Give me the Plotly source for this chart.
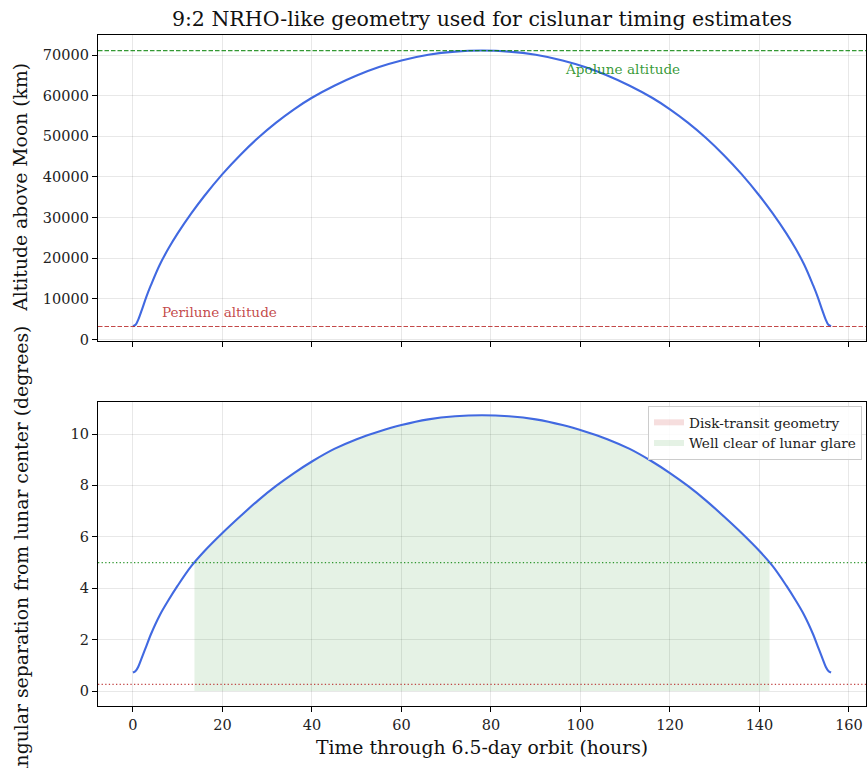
import numpy as np
import plotly.graph_objects as go
from plotly.subplots import make_subplots

# ---- data ----
time_h = [0, 0.6, 1.2, 2, 3, 4, 6, 8, 10, 13, 16, 20, 24, 28, 32, 36, 40, 45, 50, 55, 60,
          66, 72, 78,
          84, 90, 96, 101, 106, 111, 116, 120, 124, 128, 132, 136, 140, 143, 146, 148,
          150, 152, 153, 154, 154.8, 155.4, 156]
altitude_km = [3250, 3600, 4900, 7300, 10500, 13300, 18400, 22500, 26100, 30960, 35370,
               40690, 45410, 49650, 53370, 56650, 59490, 62440, 64960, 67040, 68660,
               70070, 70850, 71100,
               70850, 70070, 68660, 67040, 64960, 62440, 59490, 56650, 53370, 49650,
               45410, 40690, 35370, 30960, 26100, 22500, 18400, 13300, 10500, 7300,
               4900, 3600, 3250]
separation_deg = [0.72, 0.78, 0.95, 1.3, 1.75, 2.2, 2.95, 3.55, 4.1, 4.85, 5.45, 6.15, 6.8,
                  7.42, 7.98, 8.48, 8.93, 9.42, 9.8, 10.1, 10.35, 10.57, 10.69, 10.73,
                  10.69, 10.57, 10.35, 10.1, 9.8, 9.42, 8.93, 8.48, 7.98, 7.42, 6.8,
                  6.15, 5.45, 4.85, 4.1, 3.55, 2.95, 2.2, 1.75, 1.3, 0.95, 0.78, 0.72]
perilune_km = 3200
apolune_km = 71100
glare_threshold_deg = 5.0
lunar_radius_deg = 0.26

x_ticks = [0, 20, 40, 60, 80, 100, 120, 140, 160]
alt_ticks = [0, 10000, 20000, 30000, 40000, 50000, 60000, 70000]
sep_ticks = [0, 2, 4, 6, 8, 10]

FONT = "DejaVu Serif"
BLUE = "#4169E1"
GREEN = "rgba(0,128,0,0.8)"
RED = "rgba(185,40,40,0.85)"

t = np.array(time_h, dtype=float)
sep = np.array(separation_deg, dtype=float)

# well-clear region (angle >= threshold), edges by interpolation of the data
mask = sep >= glare_threshold_deg
idx = np.where(mask)[0]
i0, i1 = idx[0], idx[-1]
t_start = np.interp(glare_threshold_deg, [sep[i0 - 1], sep[i0]], [t[i0 - 1], t[i0]])
t_end = np.interp(glare_threshold_deg, [sep[i1 + 1], sep[i1]], [t[i1 + 1], t[i1]])
fill_t = np.concatenate([[t_start], t[mask], [t_end]])
fill_y = np.concatenate([[glare_threshold_deg], sep[mask], [glare_threshold_deg]])

# disk-transit region (angle below lunar radius) -> empty for this orbit
transit_mask = sep < lunar_radius_deg
transit_t = list(t[transit_mask]) or [None]
transit_y = list(sep[transit_mask]) or [None]

fig = make_subplots(rows=2, cols=1, shared_xaxes=True, vertical_spacing=0.0)

SPL = dict(shape="spline", smoothing=1.0)

# ---- top panel ----
fig.add_trace(go.Scatter(x=time_h, y=altitude_km, mode="lines", line=dict(color=BLUE, width=2.1, **SPL),
                         showlegend=False, hoverinfo="skip"), row=1, col=1)

# ---- bottom panel ----
fig.add_trace(go.Scatter(x=transit_t, y=transit_y, mode="none", fill="toself",
                         fillcolor="rgba(200,60,60,0.17)", name="Disk-transit geometry",
                         showlegend=True, hoverinfo="skip"), row=2, col=1)
fig.add_trace(go.Scatter(x=fill_t, y=fill_y, mode="none", fill="tozeroy",
                         line=dict(width=0, **SPL),
                         fillcolor="rgba(0,128,0,0.1)", name="Well clear of lunar glare",
                         showlegend=True, hoverinfo="skip"), row=2, col=1)
fig.add_trace(go.Scatter(x=time_h, y=separation_deg, mode="lines",
                         line=dict(color=BLUE, width=2.1, **SPL),
                         showlegend=False, hoverinfo="skip"), row=2, col=1)

# horizontal reference lines
fig.add_hline(y=apolune_km, line=dict(color=GREEN, width=1.2, dash="4.5px,2px"), row=1, col=1)
fig.add_hline(y=perilune_km, line=dict(color=RED, width=1.2, dash="4.5px,2px"), row=1, col=1)
fig.add_hline(y=glare_threshold_deg, line=dict(color=GREEN, width=1.3, dash="1.3px,2.3px"), row=2, col=1)
fig.add_hline(y=lunar_radius_deg, line=dict(color=RED, width=1.3, dash="1.3px,2.3px"), row=2, col=1)

fig.add_annotation(x=6.0, y=6770, xref="x", yref="y", text="Perilune altitude", showarrow=False,
                   xanchor="left", yanchor="middle", font=dict(family=FONT, size=13.6, color=RED))
fig.add_annotation(x=96, y=66560, xref="x", yref="y", text="Apolune altitude", showarrow=False,
                   xanchor="left", yanchor="middle", font=dict(family=FONT, size=13.6, color=GREEN))

W, H = 867, 768
L, R, T, B = 98, 1, 35, 62
ph = H - T - B
pw = W - L - R
top_dom = [(706 - 340.5) / ph, 1.0]
bot_dom = [0.0, (706 - 402) / ph]

axis_common = dict(showline=True, linecolor="black", linewidth=1.2, mirror=True,
                   ticks="outside", ticklen=5, tickwidth=1.1, tickcolor="black",
                   showgrid=True, gridcolor="rgba(0,0,0,0.09)", gridwidth=1,
                   zeroline=False, automargin=False,
                   tickfont=dict(family=FONT, size=14.5, color="#222"))

fig.update_xaxes(**axis_common, range=[-7.8, 163.8], tickvals=x_ticks)
fig.update_xaxes(showticklabels=False, row=1, col=1)
fig.update_xaxes(ticktext=[str(v) for v in x_ticks], row=2, col=1)
fig.update_yaxes(**axis_common)
fig.update_yaxes(range=[-250, 74930], tickvals=alt_ticks, ticktext=[str(v) for v in alt_ticks],
                 domain=top_dom, row=1, col=1)
fig.update_yaxes(range=[-0.58, 11.245], tickvals=sep_ticks, ticktext=[str(v) for v in sep_ticks],
                 domain=bot_dom, row=2, col=1)

# axis titles as annotations
fig.add_annotation(x=(21 - L) / pw, y=(top_dom[0] + top_dom[1]) / 2, xref="paper", yref="paper",
                   text="Altitude above Moon (km)", textangle=-90, showarrow=False,
                   xanchor="center", yanchor="middle", font=dict(family=FONT, size=18.8, color="#111"))
fig.add_annotation(x=(21 - L) / pw, y=(bot_dom[0] + bot_dom[1]) / 2, xref="paper", yref="paper",
                   text="Angular separation from lunar center (degrees)", textangle=-90, showarrow=False,
                   xanchor="center", yanchor="middle", font=dict(family=FONT, size=18.8, color="#111"))
fig.add_annotation(x=0.5, y=(706 - 747) / ph, xref="paper", yref="paper",
                   text="Time through 6.5-day orbit (hours)", showarrow=False,
                   xanchor="center", yanchor="middle", font=dict(family=FONT, size=18.8, color="#111"))

fig.update_layout(
    width=W, height=H,
    margin=dict(l=L, r=R, t=T, b=B, autoexpand=False),
    paper_bgcolor="white", plot_bgcolor="white",
    title=dict(text="9:2 NRHO-like geometry used for cislunar timing estimates",
               x=482 / W, xanchor="center", xref="container",
               y=1 - 19 / H, yanchor="middle", yref="container",
               font=dict(family=FONT, size=20.5, color="#111")),
    legend=dict(x=(862 - L) / pw, xanchor="right", y=(706 - 406) / ph, yanchor="top",
                bgcolor="rgba(255,255,255,0.85)", bordercolor="#cccccc", borderwidth=1,
                font=dict(family=FONT, size=13.6, color="#222"), itemwidth=30,
                tracegroupgap=0),
    showlegend=True,
)

fig.write_html("out.html", config={"displayModeBar": False},
               post_script="document.body.style.margin='0px';")
